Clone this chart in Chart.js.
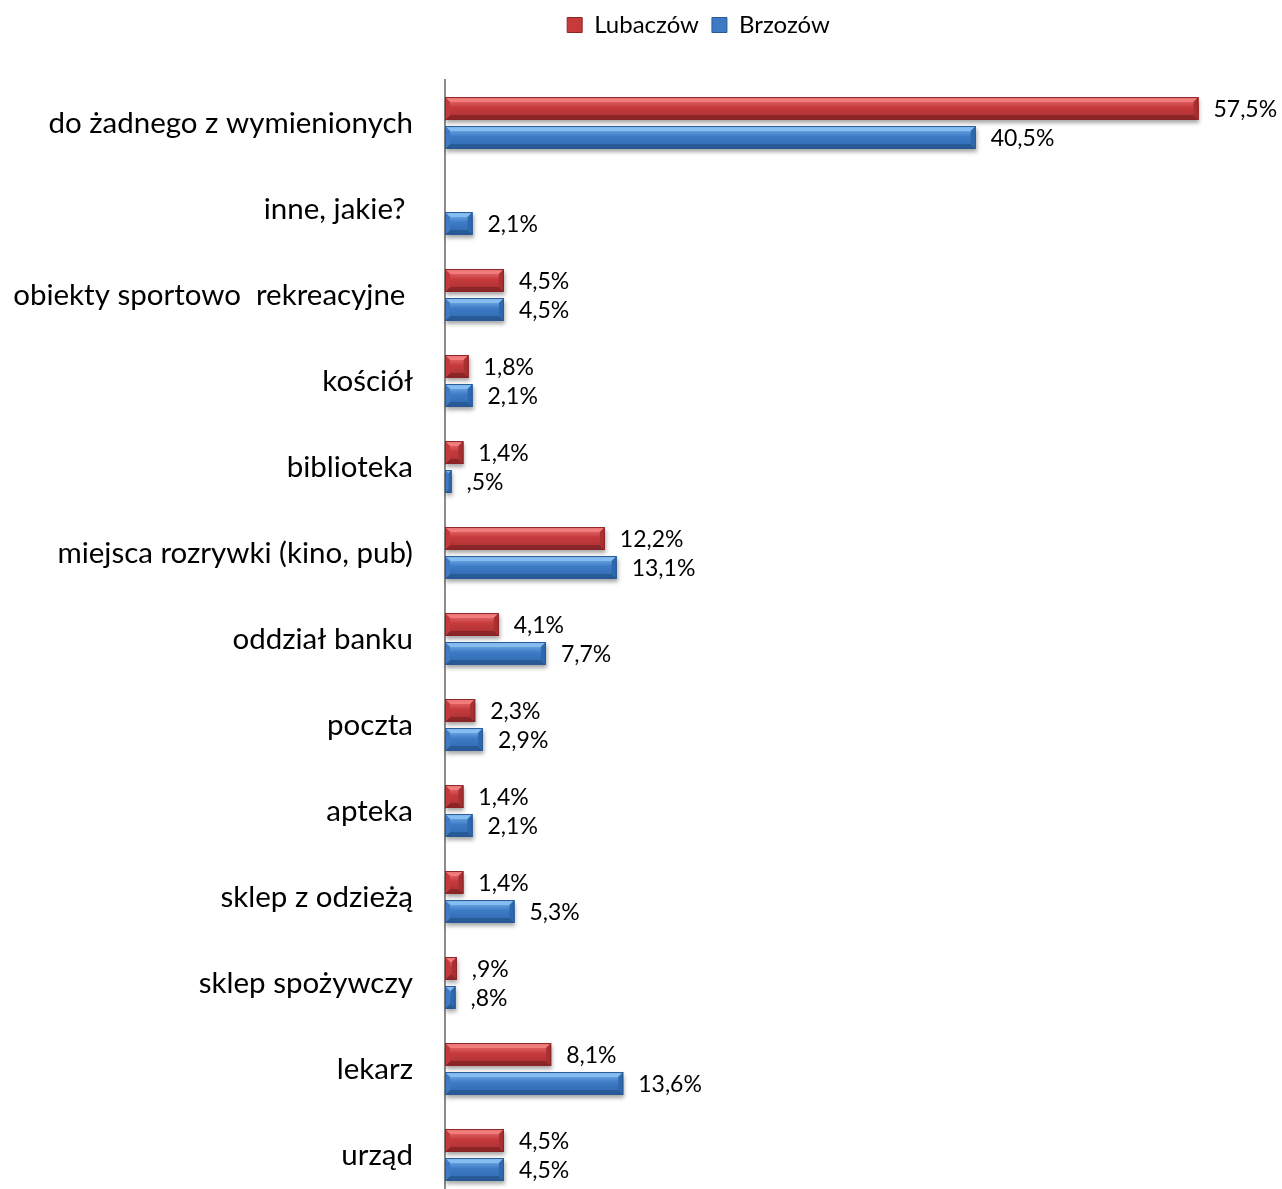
<!DOCTYPE html>
<html>
<head>
<meta charset="utf-8">
<script src="https://cdn.jsdelivr.net/npm/chart.js@4"></script>
<style>
  html, body { margin: 0; padding: 0; background: #fff; overflow: hidden; }
  canvas { display: block; }
</style>
</head>
<body>
<canvas id="chart" width="1282" height="1200"></canvas>
<script>
// dane z wykresu
const kategorie = [
    'do żadnego z wymienionych',
    'inne, jakie? ',
    'obiekty sportowo  rekreacyjne ',
    'kościół',
    'biblioteka',
    'miejsca rozrywki (kino, pub)',
    'oddział banku',
    'poczta',
    'apteka',
    'sklep z odzieżą',
    'sklep spożywczy',
    'lekarz',
    'urząd'
];
const lubaczow = [57.5, null, 4.5, 1.8, 1.4, 12.2, 4.1, 2.3, 1.4, 1.4, 0.9, 8.1, 4.5];
const brzozow = [40.5, 2.1, 4.5, 2.1, 0.5, 13.1, 7.7, 2.9, 2.1, 5.3, 0.8, 13.6, 4.5];

const kolory = {
    red:  { base: '#C63A3C', light: '#F07C7C', dark: '#8A2528', side: '#A83033' },
    blue: { base: '#3D7BC6', light: '#86BDF0', dark: '#285A96', side: '#2F68AD' }
};

const czcionka = 'Lato, "Open Sans", sans-serif';

function formatuj(v) {
    let s = v.toFixed(1).replace('.', ',');
    if (s.startsWith('0')) s = s.slice(1);
    return s + '%';
}

// efekt fazowania słupków
const fazowanie = {
    id: 'fazowanie',
    afterDatasetsDraw(chart) {
        const ctx = chart.ctx;
        chart.data.datasets.forEach((ds, di) => {
            const meta = chart.getDatasetMeta(di);
            const k = ds._kolor;
            meta.data.forEach((bar, i) => {
                if (ds.data[i] == null) return;
                const l = bar.base, r = bar.x, t = bar.y - bar.height / 2, b = bar.y + bar.height / 2;
                const w = r - l, h = b - t;
                const bv = Math.min(5, w / 2);
                ctx.save();
                ctx.shadowColor = 'rgba(0,0,0,0.35)';
                ctx.shadowBlur = 4;
                ctx.shadowOffsetX = 1;
                ctx.shadowOffsetY = 3;
                ctx.fillStyle = k.base;
                ctx.fillRect(l, t, w, h);
                ctx.restore();
                ctx.save();
                const g = ctx.createLinearGradient(0, t, 0, b);
                g.addColorStop(0, k.light);
                g.addColorStop(0.45, k.base);
                g.addColorStop(1, k.side);
                ctx.fillStyle = g;
                ctx.fillRect(l, t, w, h);
                // góra
                ctx.fillStyle = k.light;
                ctx.beginPath();
                ctx.moveTo(l, t); ctx.lineTo(r, t); ctx.lineTo(r - bv, t + bv); ctx.lineTo(l + bv, t + bv);
                ctx.closePath(); ctx.fill();
                // dół
                ctx.fillStyle = k.dark;
                ctx.beginPath();
                ctx.moveTo(l, b); ctx.lineTo(r, b); ctx.lineTo(r - bv, b - bv); ctx.lineTo(l + bv, b - bv);
                ctx.closePath(); ctx.fill();
                // prawy bok
                ctx.fillStyle = k.side;
                ctx.beginPath();
                ctx.moveTo(r, t); ctx.lineTo(r, b); ctx.lineTo(r - bv, b - bv); ctx.lineTo(r - bv, t + bv);
                ctx.closePath(); ctx.fill();
                // lewy bok
                ctx.fillStyle = k.base;
                ctx.beginPath();
                ctx.moveTo(l, t); ctx.lineTo(l, b); ctx.lineTo(l + bv, b - bv); ctx.lineTo(l + bv, t + bv);
                ctx.closePath(); ctx.fill();
                ctx.strokeStyle = k.dark;
                ctx.lineWidth = 1;
                ctx.strokeRect(l + 0.5, t + 0.5, w - 1, h - 1);
                ctx.restore();
            });
        });
    },
    afterDraw(chart) {
        // etykiety wartości
        const ctx = chart.ctx;
        ctx.save();
        ctx.font = '23px ' + czcionka;
        ctx.fillStyle = '#000';
        ctx.textAlign = 'left';
        ctx.textBaseline = 'middle';
        chart.data.datasets.forEach((ds, di) => {
            const meta = chart.getDatasetMeta(di);
            meta.data.forEach((bar, i) => {
                if (ds.data[i] == null) return;
                ctx.fillText(formatuj(ds.data[i]), bar.x + 15, bar.y + 1);
            });
        });
        ctx.restore();
    }
};

// legenda: stała wysokość i przesunięcie w prawo
const legendaUklad = {
    id: 'legendaUklad',
    beforeInit(chart) {
        const fit = chart.legend.fit;
        chart.legend.fit = function () {
            fit.bind(chart.legend)();
            this.height = 80;
        };
    },
    afterLayout(chart) {
        chart.legend.left += 96;
        chart.legend.right += 96;
    }
};

new Chart(document.getElementById('chart'), {
    type: 'bar',
    data: {
        labels: kategorie,
        datasets: [
            { label: 'Lubaczów', data: lubaczow, backgroundColor: kolory.red.base, borderColor: kolory.red.dark, borderWidth: 1, _kolor: kolory.red },
            { label: 'Brzozów', data: brzozow, backgroundColor: kolory.blue.base, borderColor: kolory.blue.dark, borderWidth: 1, _kolor: kolory.blue }
        ]
    },
    options: {
        indexAxis: 'y',
        responsive: false,
        animation: false,
        categoryPercentage: 0.674,
        barPercentage: 0.79,
        layout: { padding: { top: 0, right: 77, bottom: 2, left: 0 } },
        plugins: {
            legend: {
                position: 'top',
                labels: {
                    font: { family: czcionka, size: 24 },
                    color: '#000',
                    boxWidth: 15,
                    boxHeight: 15,
                    padding: 13
                }
            },
            tooltip: { enabled: false }
        },
        scales: {
            x: {
                display: false,
                min: 0,
                max: 58
            },
            y: {
                grid: { display: false, drawTicks: false },
                border: { display: true, color: '#8c8c8c', width: 2 },
                ticks: {
                    font: { family: czcionka, size: 29.5 },
                    color: '#000',
                    padding: 32
                },
                afterFit(scale) {
                    scale.width = 445;
                    scale.paddingTop = 0;
                    scale.paddingBottom = 0;
                }
            }
        }
    },
    plugins: [fazowanie, legendaUklad]
});
</script>
</body>
</html>
